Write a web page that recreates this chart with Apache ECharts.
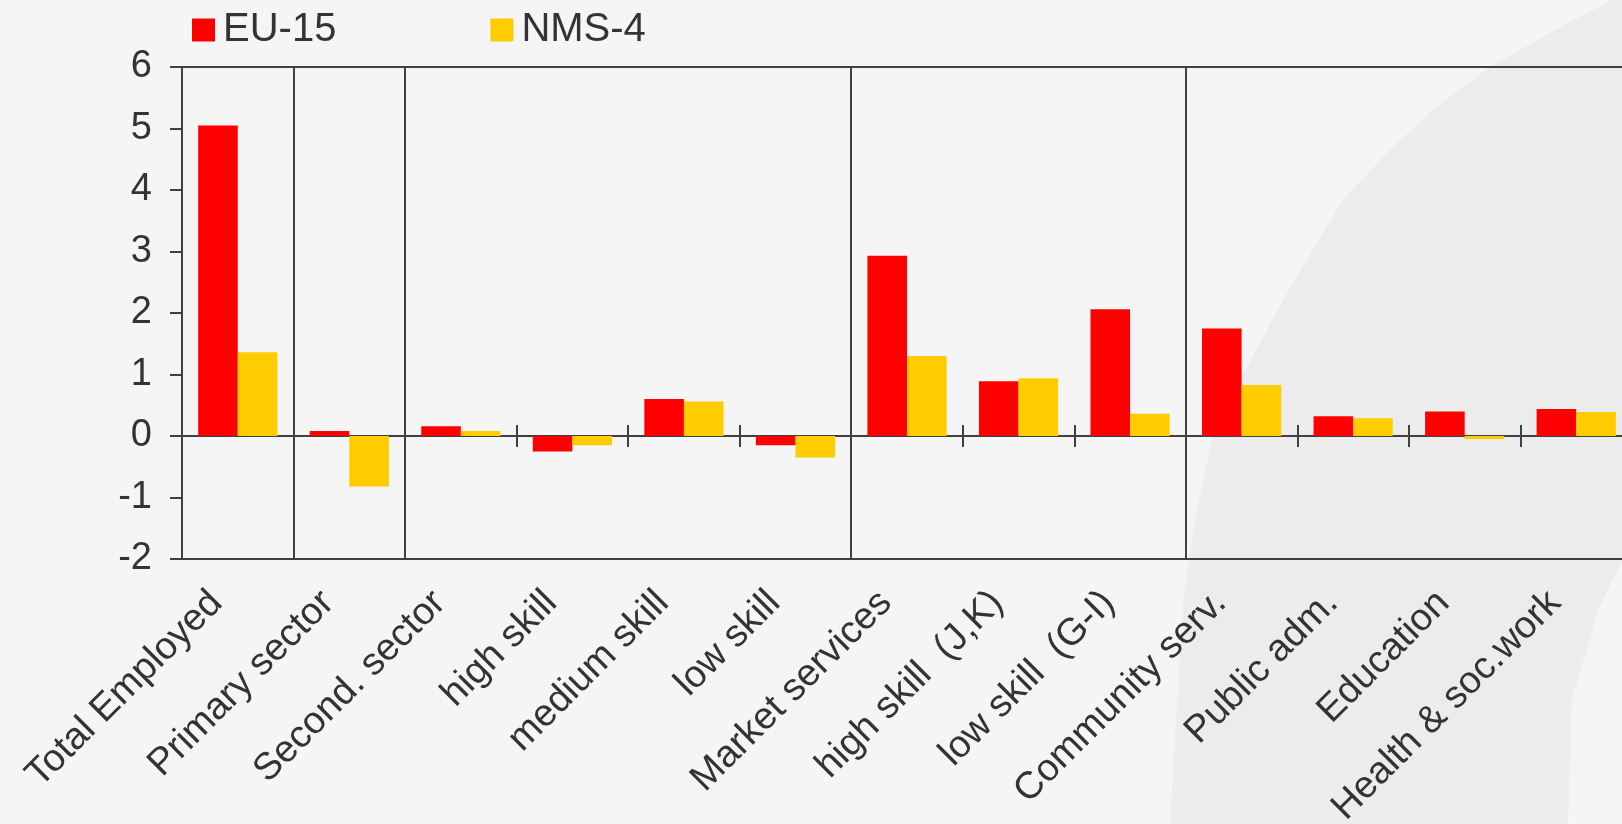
<!DOCTYPE html>
<html>
<head>
<meta charset="utf-8">
<script src="https://cdn.jsdelivr.net/npm/echarts@6/dist/echarts.min.js"></script>
<style>
html,body{margin:0;padding:0;background:#f5f5f5;}
#c{width:1622px;height:824px;}
</style>
</head>
<body>
<div id="c"></div>
<script>
// ---- data ----
const categories = ['Total Employed', 'Primary sector', 'Second. sector', 'high skill', 'medium skill', 'low skill',
  'Market services', 'high skill  (J,K)', 'low skill  (G-I)', 'Community serv.', 'Public adm.', 'Education', 'Health & soc.work'];
const seriesNames = ['EU-15', 'NMS-4'];
const eu15 = [5.05, 0.08, 0.16, -0.25, 0.60, -0.15, 2.93, 0.89, 2.06, 1.75, 0.32, 0.40, 0.44];
const nms4 = [1.36, -0.82, 0.08, -0.15, 0.56, -0.35, 1.30, 0.94, 0.36, 0.83, 0.29, -0.05, 0.39];
const groupStarts = [1, 2, 6, 9];   // categories that begin a new group (separator on their left)
const yTicks = { min: -2, max: 6, interval: 1 };

const FONT = '"Liberation Sans", Arial, sans-serif';
const AX = '#404040';
const TXT = '#333333';

const chart = echarts.init(document.getElementById('c'), null, { renderer: 'canvas' });
chart.setOption({
  backgroundColor: '#f5f5f5',
  animation: false,
  textStyle: { fontFamily: FONT },
  graphic: [{
    type: 'polygon',
    z: -10,
    silent: true,
    shape: { points: [[1612, 0], [1555, 30], [1490, 67], [1435, 108], [1390, 150], [1343, 200], [1283, 300],
      [1240, 380], [1212, 440], [1195, 520], [1183, 600], [1170, 824], [1568, 824], [1572, 700], [1598, 610],
      [1622, 560], [1622, 0]] },
    style: { fill: '#ececec' }
  }],
  legend: {
    left: 187, top: 5,
    itemWidth: 23, itemHeight: 23, itemGap: 154,
    icon: 'rect',
    textStyle: { fontSize: 40, color: TXT, fontFamily: FONT, padding: [0, 0, 0, 3] },
    data: seriesNames
  },
  grid: {
    left: 182, top: 67, right: -10, bottom: 265,
    outerBoundsMode: 'none',
    containLabel: false,
    show: true, borderColor: AX, borderWidth: 2, backgroundColor: 'transparent'
  },
  xAxis: [{
    type: 'category',
    data: categories,
    position: 'bottom',
    axisLine: { show: true, onZero: true, onZeroAxisIndex: 0, lineStyle: { color: AX, width: 2 } },
    axisTick: { show: true, interval: 0, length: 11, lineStyle: { color: AX, width: 2 } },
    axisLabel: {
      interval: 0, rotate: 45, fontSize: 38, color: TXT, fontFamily: FONT,
      margin: 17, padding: [0, 30, 0, 0], hideOverlap: false
    },
    splitLine: {
      show: true,
      interval: function (idx) { return groupStarts.indexOf(idx) >= 0; },
      lineStyle: { color: AX, width: 2 }
    }
  }, {
    type: 'category',
    data: categories,
    position: 'top',
    axisLine: { show: false, onZero: true, onZeroAxisIndex: 0 },
    axisTick: { show: true, interval: 0, length: 11, lineStyle: { color: AX, width: 2 } },
    axisLabel: { show: false },
    splitLine: { show: false }
  }],
  yAxis: {
    type: 'value',
    min: yTicks.min, max: yTicks.max, interval: yTicks.interval,
    axisLine: { show: true, lineStyle: { color: AX, width: 2 } },
    axisTick: { show: true, length: 12, lineStyle: { color: AX, width: 2 } },
    axisLabel: { fontSize: 38, color: TXT, fontFamily: FONT, margin: 30 },
    splitLine: { show: false }
  },
  series: [{
    name: seriesNames[0], type: 'bar', data: eu15,
    barGap: '0%', barCategoryGap: '29%',
    itemStyle: { color: '#ff0000' }
  }, {
    name: seriesNames[1], type: 'bar', data: nms4,
    barGap: '0%', barCategoryGap: '29%',
    itemStyle: { color: '#ffcc00' }
  }]
});
</script>
</body>
</html>
